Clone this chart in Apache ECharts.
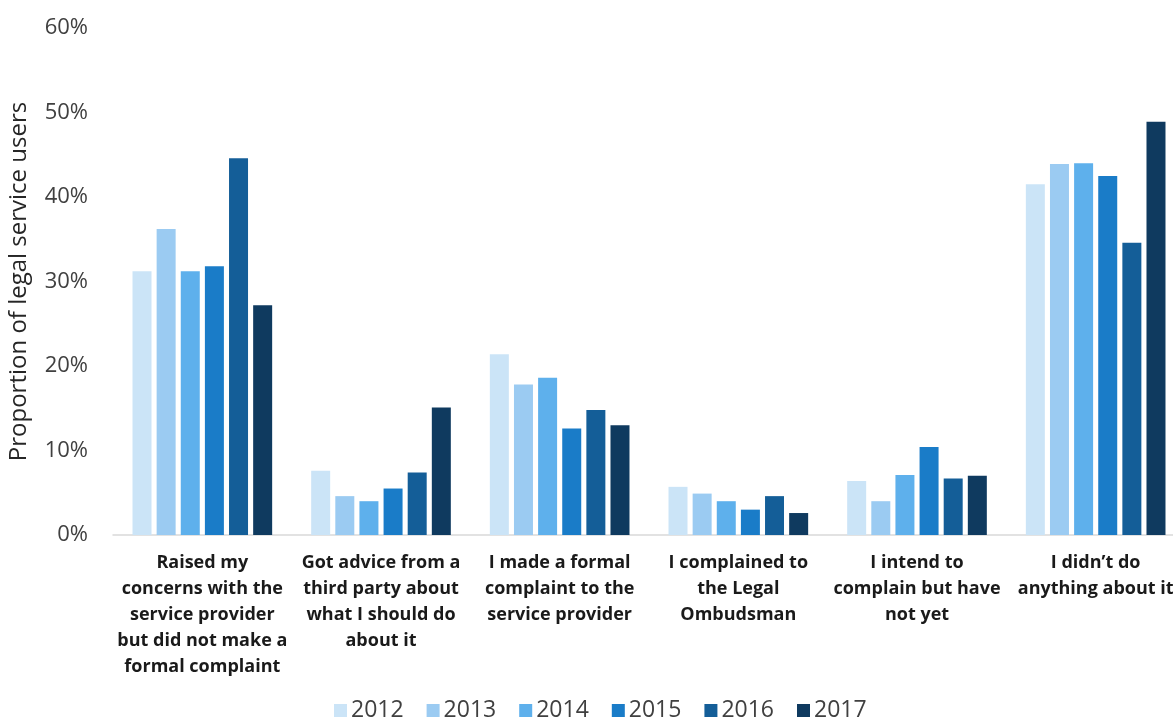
<!DOCTYPE html>
<html>
<head>
<meta charset="utf-8">
<script src="https://cdn.jsdelivr.net/npm/echarts@6/dist/echarts.min.js"></script>
<style>
  html, body { margin: 0; padding: 0; background: #ffffff; }
  #chart { width: 1173px; height: 727px; }
</style>
</head>
<body>
<div id="chart"></div>
<script>
// Actions taken by legal service users who were dissatisfied, by survey year
const categories = [
  'Raised my\nconcerns with the\nservice provider\nbut did not make a\nformal complaint',
  'Got advice from a\nthird party about\nwhat I should do\nabout it',
  'I made a formal\ncomplaint to the\nservice provider',
  'I complained to\nthe Legal\nOmbudsman',
  'I intend to\ncomplain but have\nnot yet',
  'I didn\u2019t do\nanything about it'
];
const years = ['2012', '2013', '2014', '2015', '2016', '2017'];
const v2012 = [31.2, 7.6, 21.4, 5.7, 6.4, 41.5];
const v2013 = [36.2, 4.6, 17.8, 4.9, 4.0, 43.9];
const v2014 = [31.2, 4.0, 18.6, 4.0, 7.1, 44.0];
const v2015 = [31.8, 5.5, 12.6, 3.0, 10.4, 42.5];
const v2016 = [44.6, 7.4, 14.8, 4.6, 6.7, 34.6];
const v2017 = [27.2, 15.1, 13.0, 2.6, 7.0, 48.9];
const yTicks = [0, 10, 20, 30, 40, 50, 60];

const seriesValues = [v2012, v2013, v2014, v2015, v2016, v2017];
const palette = ['#cbe4f7', '#9bcbf2', '#5eb0ec', '#1a7cc8', '#145e98', '#0f3a5f'];
const FONT = '"Open Sans", Lato, sans-serif';

const chart = echarts.init(document.getElementById('chart'));
chart.setOption({
  animation: false,
  backgroundColor: '#ffffff',
  color: palette,
  // the plot runs a little past the right edge of the canvas
  grid: { left: 113, width: 1072, top: 28, bottom: 192, containLabel: false, outerBoundsMode: 'none' },
  legend: {
    data: years,
    left: 329,
    bottom: 0,
    itemWidth: 13,
    itemHeight: 13,
    itemGap: 23,
    icon: 'rect',
    textStyle: { fontFamily: FONT, fontSize: 23, color: '#404040', padding: [0, 0, 0, -1] }
  },
  xAxis: {
    type: 'category',
    data: categories,
    axisLine: { show: true, lineStyle: { color: '#d9d9d9', width: 1.5 } },
    axisTick: { show: false },
    axisLabel: {
      interval: 0,
      margin: 15,
      fontFamily: FONT,
      fontWeight: 'bold',
      fontSize: 18,
      lineHeight: 26,
      color: '#1a1a1a',
      align: 'center'
    }
  },
  yAxis: {
    type: 'value',
    min: yTicks[0],
    max: yTicks[yTicks.length - 1],
    interval: 10,
    name: 'Proportion of legal service users',
    nameLocation: 'middle',
    nameGap: 82,
    nameRotate: 90,
    nameTextStyle: { fontFamily: FONT, fontSize: 24, color: '#262626' },
    splitLine: { show: false },
    axisLine: { show: false },
    axisTick: { show: false },
    axisLabel: {
      margin: 25,
      formatter: '{value}%',
      fontFamily: FONT,
      fontSize: 22,
      color: '#404040'
    }
  },
  series: years.map((y, i) => ({
    name: y,
    type: 'bar',
    data: seriesValues[i],
    barWidth: 19,
    barGap: '27%',
    itemStyle: { color: palette[i] }
  }))
});
</script>
</body>
</html>
